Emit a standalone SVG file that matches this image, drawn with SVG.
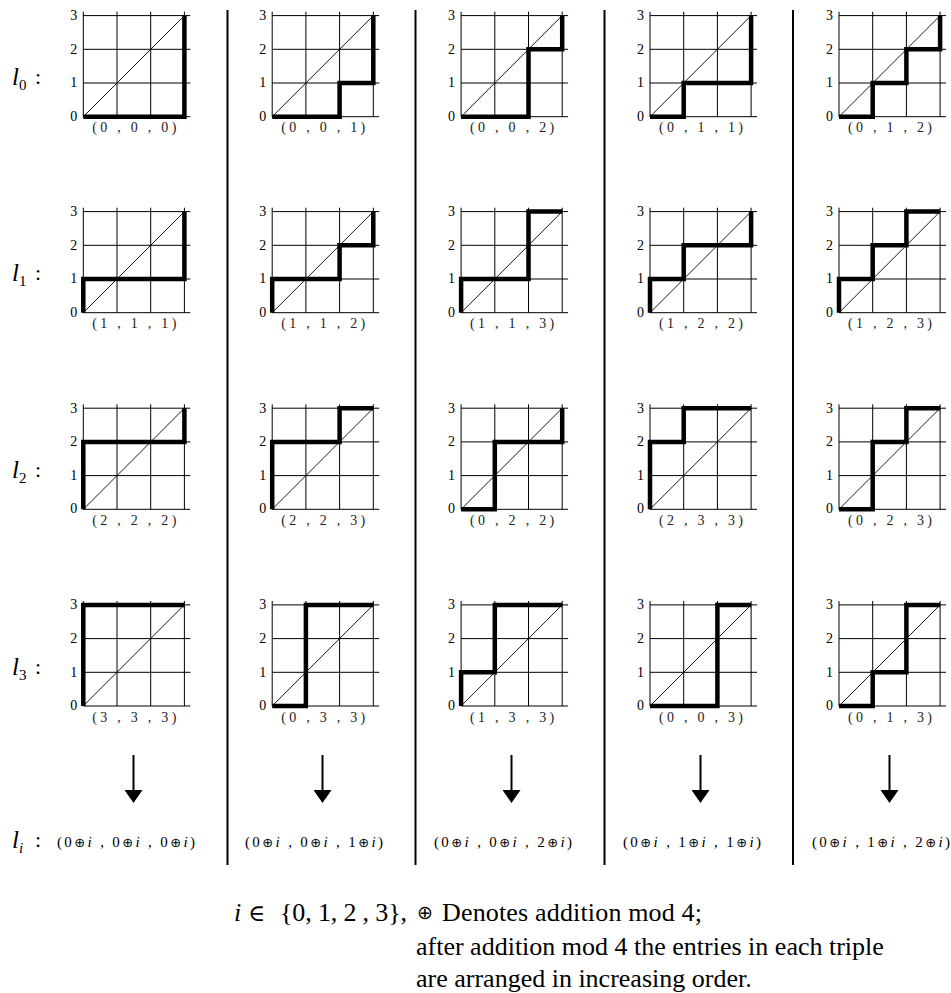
<svg xmlns="http://www.w3.org/2000/svg" xmlns:xlink="http://www.w3.org/1999/xlink" width="951" height="993" viewBox="0 0 951 993">
<style>
  .gl { stroke:#000; stroke-width:1; fill:none; }
  .dg { stroke:#000; stroke-width:0.9; fill:none; }
  .thick { stroke:#000; stroke-width:4.5; fill:none; stroke-linejoin:miter; }
  .tick { font-family:"Liberation Serif", serif; font-size:14px; fill:#000; text-anchor:end; }
  .tup { font-family:"Liberation Serif", serif; font-size:14px; fill:#222; text-anchor:middle; }
  .rl { font-family:"Liberation Serif", serif; font-size:25px; font-style:italic; fill:#000; }
  .sub { font-size:15px; font-style:normal; }
  .colon { font-family:"Liberation Serif", serif; font-size:22px; fill:#000; }
  .bt { font-family:"Liberation Serif", "DejaVu Serif", serif; font-size:15px; fill:#000; }
  .it { font-style:italic; }
  .op { font-family:"DejaVu Sans", sans-serif; font-size:13px; }
  .sep { stroke:#000; stroke-width:2; }
  .arr { stroke:#000; stroke-width:2; fill:none; }
  .fn { font-family:"Liberation Serif", serif; font-size:26px; fill:#000; }
</style>
<defs>
  <g id="grid">
    <path class="gl" d="M0,-105V0M33.7,-105V0M67.4,-105V0M101.1,-105V0M0,0H107M0,-33.7H107M0,-67.4H107M0,-101.1H107"/>
    <path class="dg" d="M0,0L101.1,-101.1"/>
    <text class="tick" x="-6" y="4">0</text>
    <text class="tick" x="-6" y="-29.4">1</text>
    <text class="tick" x="-6" y="-63">2</text>
    <text class="tick" x="-6" y="-96.6">3</text>
  </g>
  <marker id="ah" markerWidth="14" markerHeight="18" refX="5" refY="9" orient="auto" markerUnits="userSpaceOnUse" viewBox="0 0 14 18">
    <path d="M0,0L13,9L0,18Z" fill="#000"/>
  </marker>
</defs>

<!-- row labels -->
<g id="row-labels">
  <text class="rl" x="12" y="85">l<tspan class="sub" dy="5">0</tspan></text><text class="colon" x="35" y="84">:</text>
  <text class="rl" x="12" y="281">l<tspan class="sub" dy="5">1</tspan></text><text class="colon" x="35" y="280">:</text>
  <text class="rl" x="12" y="478">l<tspan class="sub" dy="5">2</tspan></text><text class="colon" x="35" y="477">:</text>
  <text class="rl" x="12" y="675">l<tspan class="sub" dy="5">3</tspan></text><text class="colon" x="35" y="674">:</text>
  <text class="rl" x="12" y="848">l<tspan class="sub it" dy="5">i</tspan></text><text class="colon" x="35" y="847">:</text>
</g>

<!-- separators -->
<g id="separators">
  <line class="sep" x1="227.5" y1="10" x2="227.5" y2="865"/>
  <line class="sep" x1="415.5" y1="10" x2="415.5" y2="865"/>
  <line class="sep" x1="604.5" y1="10" x2="604.5" y2="865"/>
  <line class="sep" x1="793" y1="10" x2="793" y2="865"/>
</g>

<!-- Row 0 -->
<g id="p00" transform="translate(83.3,116.7)"><use href="#grid"/><path class="thick" d="M0,0H101.1V-101.1"/><text class="tup" x="51" y="15.5" textLength="84" lengthAdjust="spacing">(0 , 0 , 0)</text></g>
<g id="p01" transform="translate(272.2,116.7)"><use href="#grid"/><path class="thick" d="M0,0H67.4V-33.7H101.1V-101.1"/><text class="tup" x="51" y="15.5" textLength="84" lengthAdjust="spacing">(0 , 0 , 1)</text></g>
<g id="p02" transform="translate(461.1,116.7)"><use href="#grid"/><path class="thick" d="M0,0H67.4V-67.4H101.1V-101.1"/><text class="tup" x="51" y="15.5" textLength="84" lengthAdjust="spacing">(0 , 0 , 2)</text></g>
<g id="p03" transform="translate(650,116.7)"><use href="#grid"/><path class="thick" d="M0,0H33.7V-33.7H101.1V-101.1"/><text class="tup" x="51" y="15.5" textLength="84" lengthAdjust="spacing">(0 , 1 , 1)</text></g>
<g id="p04" transform="translate(839,116.7)"><use href="#grid"/><path class="thick" d="M0,0H33.7V-33.7H67.4V-67.4H101.1V-101.1"/><text class="tup" x="51" y="15.5" textLength="84" lengthAdjust="spacing">(0 , 1 , 2)</text></g>

<!-- Row 1 -->
<g id="p10" transform="translate(83.3,312.7)"><use href="#grid"/><path class="thick" d="M0,0V-33.7H101.1V-101.1"/><text class="tup" x="51" y="15.5" textLength="84" lengthAdjust="spacing">(1 , 1 , 1)</text></g>
<g id="p11" transform="translate(272.2,312.7)"><use href="#grid"/><path class="thick" d="M0,0V-33.7H67.4V-67.4H101.1V-101.1"/><text class="tup" x="51" y="15.5" textLength="84" lengthAdjust="spacing">(1 , 1 , 2)</text></g>
<g id="p12" transform="translate(461.1,312.7)"><use href="#grid"/><path class="thick" d="M0,0V-33.7H67.4V-101.1H101.1"/><text class="tup" x="51" y="15.5" textLength="84" lengthAdjust="spacing">(1 , 1 , 3)</text></g>
<g id="p13" transform="translate(650,312.7)"><use href="#grid"/><path class="thick" d="M0,0V-33.7H33.7V-67.4H101.1V-101.1"/><text class="tup" x="51" y="15.5" textLength="84" lengthAdjust="spacing">(1 , 2 , 2)</text></g>
<g id="p14" transform="translate(839,312.7)"><use href="#grid"/><path class="thick" d="M0,0V-33.7H33.7V-67.4H67.4V-101.1H101.1"/><text class="tup" x="51" y="15.5" textLength="84" lengthAdjust="spacing">(1 , 2 , 3)</text></g>

<!-- Row 2 -->
<g id="p20" transform="translate(83.3,509.3)"><use href="#grid"/><path class="thick" d="M0,0V-67.4H101.1V-101.1"/><text class="tup" x="51" y="15.5" textLength="84" lengthAdjust="spacing">(2 , 2 , 2)</text></g>
<g id="p21" transform="translate(272.2,509.3)"><use href="#grid"/><path class="thick" d="M0,0V-67.4H67.4V-101.1H101.1"/><text class="tup" x="51" y="15.5" textLength="84" lengthAdjust="spacing">(2 , 2 , 3)</text></g>
<g id="p22" transform="translate(461.1,509.3)"><use href="#grid"/><path class="thick" d="M0,0H33.7V-67.4H101.1V-101.1"/><text class="tup" x="51" y="15.5" textLength="84" lengthAdjust="spacing">(0 , 2 , 2)</text></g>
<g id="p23" transform="translate(650,509.3)"><use href="#grid"/><path class="thick" d="M0,0V-67.4H33.7V-101.1H101.1"/><text class="tup" x="51" y="15.5" textLength="84" lengthAdjust="spacing">(2 , 3 , 3)</text></g>
<g id="p24" transform="translate(839,509.3)"><use href="#grid"/><path class="thick" d="M0,0H33.7V-67.4H67.4V-101.1H101.1"/><text class="tup" x="51" y="15.5" textLength="84" lengthAdjust="spacing">(0 , 2 , 3)</text></g>

<!-- Row 3 -->
<g id="p30" transform="translate(83.3,706)"><use href="#grid"/><path class="thick" d="M0,0V-101.1H101.1"/><text class="tup" x="51" y="15.5" textLength="84" lengthAdjust="spacing">(3 , 3 , 3)</text></g>
<g id="p31" transform="translate(272.2,706)"><use href="#grid"/><path class="thick" d="M0,0H33.7V-101.1H101.1"/><text class="tup" x="51" y="15.5" textLength="84" lengthAdjust="spacing">(0 , 3 , 3)</text></g>
<g id="p32" transform="translate(461.1,706)"><use href="#grid"/><path class="thick" d="M0,0V-33.7H33.7V-101.1H101.1"/><text class="tup" x="51" y="15.5" textLength="84" lengthAdjust="spacing">(1 , 3 , 3)</text></g>
<g id="p33" transform="translate(650,706)"><use href="#grid"/><path class="thick" d="M0,0H67.4V-101.1H101.1"/><text class="tup" x="51" y="15.5" textLength="84" lengthAdjust="spacing">(0 , 0 , 3)</text></g>
<g id="p34" transform="translate(839,706)"><use href="#grid"/><path class="thick" d="M0,0H33.7V-33.7H67.4V-101.1H101.1"/><text class="tup" x="51" y="15.5" textLength="84" lengthAdjust="spacing">(0 , 1 , 3)</text></g>

<!-- connectors -->
<g id="connectors">
  <line class="arr" x1="133.5" y1="755" x2="133.5" y2="795" marker-end="url(#ah)"/>
  <line class="arr" x1="322.5" y1="755" x2="322.5" y2="795" marker-end="url(#ah)"/>
  <line class="arr" x1="511.5" y1="755" x2="511.5" y2="795" marker-end="url(#ah)"/>
  <line class="arr" x1="700.5" y1="755" x2="700.5" y2="795" marker-end="url(#ah)"/>
  <line class="arr" x1="889.5" y1="755" x2="889.5" y2="795" marker-end="url(#ah)"/>
</g>

<!-- bottom tuples -->
<g id="results">
  <text class="bt" x="57" y="847" textLength="138" lengthAdjust="spacing">(0<tspan class="op">⊕</tspan><tspan class="it">i</tspan> , 0<tspan class="op">⊕</tspan><tspan class="it">i</tspan> , 0<tspan class="op">⊕</tspan><tspan class="it">i</tspan>)</text>
  <text class="bt" x="245" y="847" textLength="138" lengthAdjust="spacing">(0<tspan class="op">⊕</tspan><tspan class="it">i</tspan> , 0<tspan class="op">⊕</tspan><tspan class="it">i</tspan> , 1<tspan class="op">⊕</tspan><tspan class="it">i</tspan>)</text>
  <text class="bt" x="434" y="847" textLength="138" lengthAdjust="spacing">(0<tspan class="op">⊕</tspan><tspan class="it">i</tspan> , 0<tspan class="op">⊕</tspan><tspan class="it">i</tspan> , 2<tspan class="op">⊕</tspan><tspan class="it">i</tspan>)</text>
  <text class="bt" x="623" y="847" textLength="138" lengthAdjust="spacing">(0<tspan class="op">⊕</tspan><tspan class="it">i</tspan> , 1<tspan class="op">⊕</tspan><tspan class="it">i</tspan> , 1<tspan class="op">⊕</tspan><tspan class="it">i</tspan>)</text>
  <text class="bt" x="812" y="847" textLength="138" lengthAdjust="spacing">(0<tspan class="op">⊕</tspan><tspan class="it">i</tspan> , 1<tspan class="op">⊕</tspan><tspan class="it">i</tspan> , 2<tspan class="op">⊕</tspan><tspan class="it">i</tspan>)</text>
</g>

<!-- footnote -->
<g id="footnote">
  <text class="fn" x="234" y="921"><tspan class="it">i</tspan></text>
  <text class="fn" x="248" y="921" style="font-family:'DejaVu Serif', serif;font-size:23px">∈</text>
  <text class="fn" x="280" y="921" textLength="127" lengthAdjust="spacing">{0, 1, 2 , 3},</text>
  <text class="fn" x="417" y="919" style="font-family:'DejaVu Sans', sans-serif;font-size:19px">⊕</text>
  <text class="fn" x="442" y="921" textLength="260" lengthAdjust="spacing">Denotes addition mod 4;</text>
  <text class="fn" x="416" y="955">after addition mod 4 the entries in each triple</text>
  <text class="fn" x="416" y="987">are arranged in increasing order.</text>
</g>
</svg>
